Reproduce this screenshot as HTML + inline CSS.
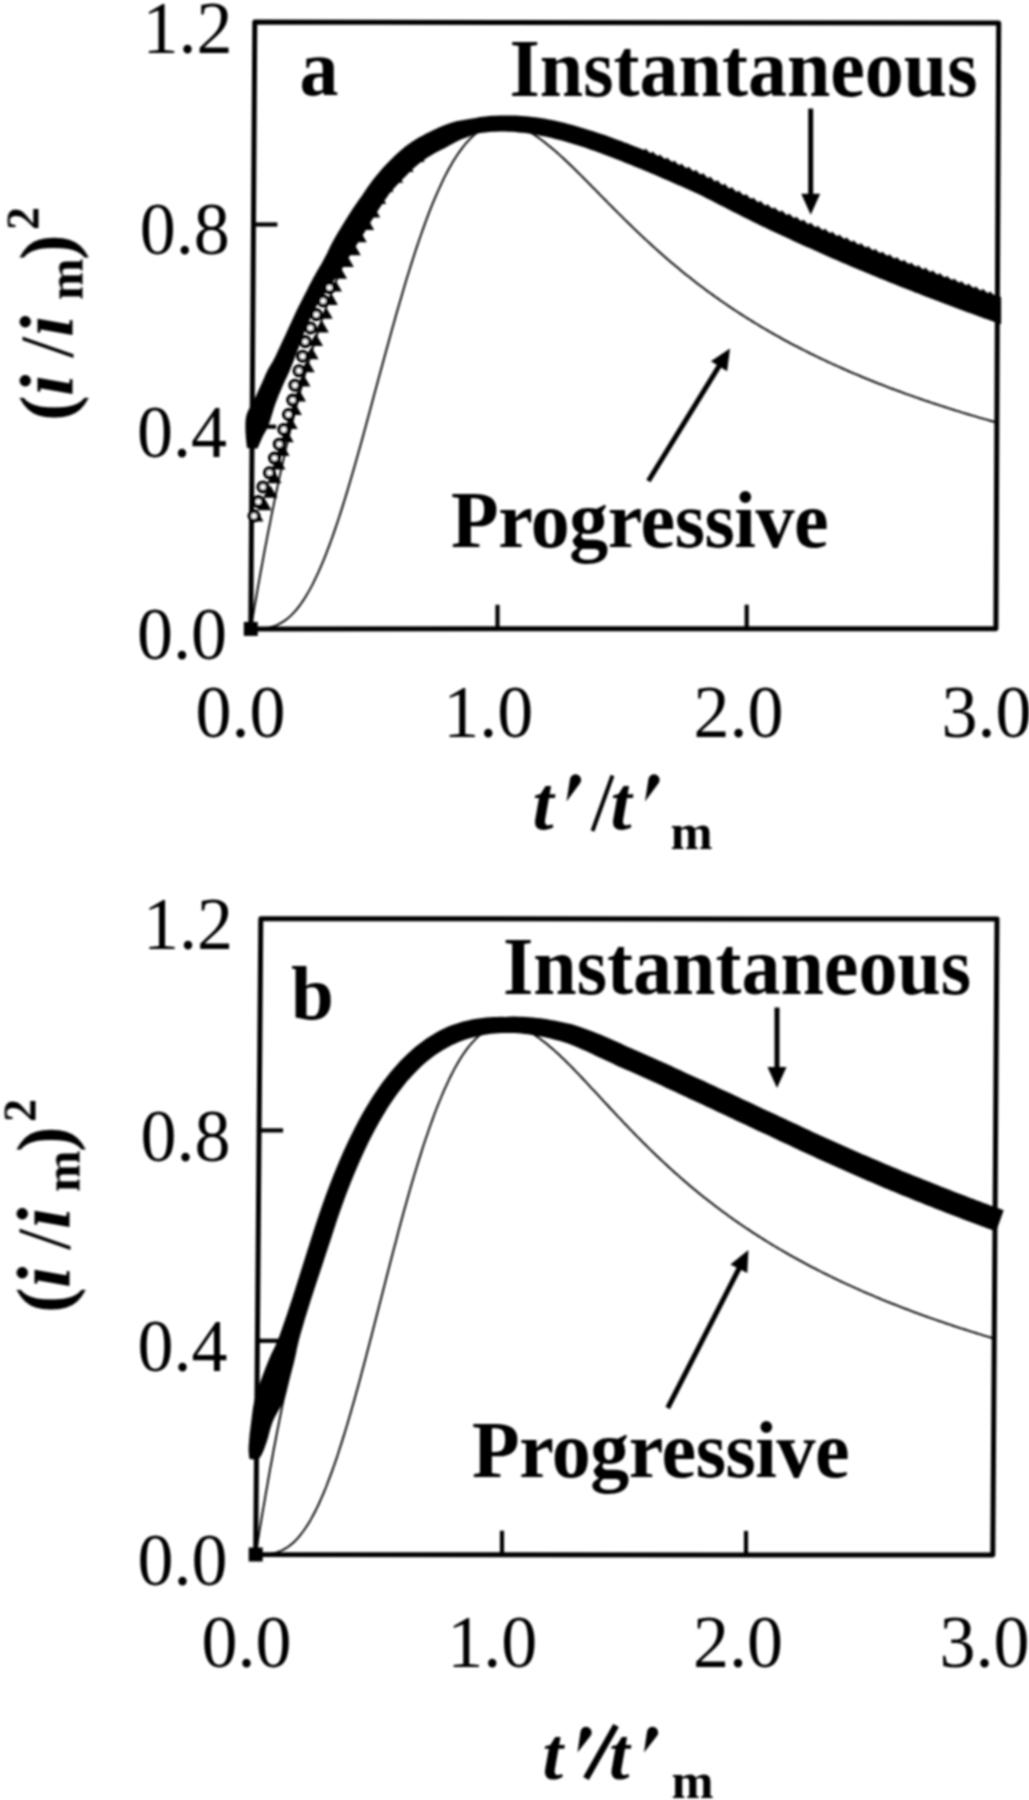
<!DOCTYPE html>
<html><head><meta charset="utf-8"><title>Chart</title>
<style>html,body{margin:0;padding:0;background:#fff;width:1029px;height:1800px;overflow:hidden}svg{display:block}</style>
</head><body>
<svg width="1029" height="1800" viewBox="0 0 1029 1800"><defs><filter id="soft" filterUnits="userSpaceOnUse" x="0" y="0" width="1029" height="1800"><feGaussianBlur stdDeviation="1.0"/></filter></defs><rect width="1029" height="1800" fill="#fff"/><g filter="url(#soft)"><polygon points="254.8,22.1 998.7,23.1 995.9,628.7 250.8,628.9" fill="none" stroke="#000" stroke-width="5" stroke-linejoin="round"/>
<line x1="252.1" y1="426.7" x2="276.1" y2="426.7" stroke="#000" stroke-width="4.2"/>
<line x1="253.4" y1="224.5" x2="277.4" y2="224.5" stroke="#000" stroke-width="4.2"/>
<line x1="497.5" y1="628.8" x2="497.5" y2="604.8" stroke="#000" stroke-width="4.2"/>
<line x1="746.7" y1="628.7" x2="746.7" y2="604.7" stroke="#000" stroke-width="4.2"/>
<rect x="243.8" y="621.9" width="14" height="14" fill="#000"/>
<polyline points="250.8,628.9 252.7,628.9 254.5,628.9 256.4,628.9 258.3,628.8 260.1,628.7 262.0,628.6 263.8,628.4 265.7,628.2 267.6,627.9 269.4,627.5 271.3,627.0 273.2,626.5 275.0,625.8 276.9,625.1 278.8,624.2 280.6,623.2 282.5,622.1 284.4,620.9 286.3,619.6 288.1,618.1 290.0,616.4 291.9,614.6 293.7,612.7 295.6,610.6 297.5,608.3 299.4,605.9 301.3,603.3 303.1,600.6 305.0,597.7 306.9,594.6 308.8,591.4 310.7,587.9 312.6,584.4 314.4,580.6 316.3,576.7 318.2,572.6 320.1,568.3 322.0,563.9 323.9,559.3 325.8,554.6 327.7,549.7 329.6,544.7 331.5,539.5 333.4,534.1 335.3,528.6 337.2,523.0 339.1,517.3 341.0,511.4 342.9,505.4 344.8,499.3 346.7,493.1 348.6,486.8 350.5,480.3 352.4,473.8 354.3,467.2 356.2,460.6 358.1,453.8 360.0,447.0 361.9,440.2 363.8,433.2 365.7,426.3 367.6,419.3 369.5,412.3 371.4,405.2 373.3,398.1 375.2,391.1 377.1,384.0 379.0,376.9 380.9,369.9 382.9,362.8 384.8,355.8 386.7,348.8 388.6,341.9 390.5,335.0 392.4,328.1 394.3,321.4 396.2,314.6 398.1,308.0 400.0,301.4 401.9,294.9 403.8,288.4 405.7,282.1 407.6,275.8 409.5,269.7 411.4,263.6 413.3,257.7 415.2,251.8 417.1,246.1 419.0,240.5 420.9,235.0 422.8,229.6 424.7,224.4 426.5,219.3 428.4,214.3 430.3,209.4 432.2,204.7 434.1,200.1 436.0,195.6 437.9,191.3 439.8,187.1 441.7,183.1 443.5,179.2 445.4,175.4 447.3,171.8 449.2,168.3 451.1,165.0 452.9,161.8 454.8,158.7 456.7,155.8 458.6,153.0 460.5,150.4 462.3,147.9 464.2,145.5 466.1,143.2 468.0,141.1 469.8,139.1 471.7,137.3 473.6,135.6 475.4,133.9 477.3,132.5 479.2,131.1 481.0,129.9 482.9,128.8 484.8,127.8 486.6,126.9 488.5,126.1 490.4,125.4 492.2,124.8 494.1,124.4 496.0,124.0 497.8,123.8 499.7,123.6 501.5,123.5 503.4,123.5 505.3,123.6 507.1,123.8 509.0,124.1 510.8,124.5 512.7,124.9 514.6,125.4 516.4,126.0 518.3,126.6 520.1,127.4 522.0,128.2 523.8,129.0 525.7,129.9 527.5,130.9 529.4,131.9 531.3,133.0 533.1,134.1 535.0,135.3 536.8,136.6 538.7,137.8 540.5,139.2 542.4,140.5 544.2,141.9 546.1,143.4 547.9,144.9 549.8,146.4 551.6,147.9 553.5,149.5 555.3,151.1 557.2,152.7 559.0,154.4 560.9,156.1 562.7,157.8 564.6,159.5 566.4,161.2 568.3,163.0 570.1,164.7 572.0,166.5 573.8,168.3 575.7,170.1 577.5,172.0 579.4,173.8 581.2,175.7 583.1,177.5 584.9,179.4 586.8,181.2 588.6,183.1 590.5,185.0 592.3,186.9 594.2,188.7 596.0,190.6 597.9,192.5 599.7,194.4 601.6,196.3 603.4,198.1 605.3,200.0 607.1,201.9 609.0,203.8 610.8,205.6 612.7,207.5 614.5,209.4 616.4,211.2 618.2,213.1 620.1,214.9 621.9,216.7 623.8,218.6 625.6,220.4 627.5,222.2 629.3,224.0 631.2,225.8 633.0,227.6 634.9,229.4 636.7,231.2 638.6,232.9 640.4,234.7 642.3,236.4 644.1,238.2 646.0,239.9 647.9,241.6 649.7,243.3 651.6,245.0 653.4,246.7 655.3,248.4 657.1,250.0 659.0,251.7 660.8,253.3 662.7,255.0 664.5,256.6 666.4,258.2 668.2,259.8 670.1,261.4 671.9,262.9 673.8,264.5 675.6,266.1 677.5,267.6 679.3,269.1 681.2,270.7 683.0,272.2 684.9,273.7 686.7,275.2 688.6,276.6 690.5,278.1 692.3,279.6 694.2,281.0 696.0,282.5 697.9,283.9 699.7,285.3 701.6,286.7 703.4,288.1 705.3,289.5 707.1,290.9 709.0,292.2 710.8,293.6 712.7,294.9 714.5,296.2 716.4,297.6 718.3,298.9 720.1,300.2 722.0,301.5 723.8,302.8 725.7,304.0 727.5,305.3 729.4,306.6 731.2,307.8 733.1,309.1 734.9,310.3 736.8,311.5 738.7,312.7 740.5,313.9 742.4,315.1 744.2,316.3 746.1,317.5 747.9,318.6 749.8,319.8 751.6,320.9 753.5,322.1 755.4,323.2 757.2,324.3 759.1,325.5 760.9,326.6 762.8,327.7 764.6,328.8 766.5,329.9 768.3,330.9 770.2,332.0 772.1,333.1 773.9,334.1 775.8,335.2 777.6,336.2 779.5,337.2 781.3,338.3 783.2,339.3 785.0,340.3 786.9,341.3 788.8,342.3 790.6,343.3 792.5,344.3 794.3,345.3 796.2,346.2 798.0,347.2 799.9,348.2 801.7,349.1 803.6,350.0 805.5,351.0 807.3,351.9 809.2,352.8 811.0,353.8 812.9,354.7 814.7,355.6 816.6,356.5 818.5,357.4 820.3,358.3 822.2,359.2 824.0,360.0 825.9,360.9 827.7,361.8 829.6,362.6 831.5,363.5 833.3,364.3 835.2,365.2 837.0,366.0 838.9,366.9 840.7,367.7 842.6,368.5 844.5,369.3 846.3,370.2 848.2,371.0 850.0,371.8 851.9,372.6 853.7,373.4 855.6,374.1 857.5,374.9 859.3,375.7 861.2,376.5 863.0,377.3 864.9,378.0 866.7,378.8 868.6,379.5 870.5,380.3 872.3,381.0 874.2,381.8 876.0,382.5 877.9,383.3 879.8,384.0 881.6,384.7 883.5,385.4 885.3,386.1 887.2,386.9 889.0,387.6 890.9,388.3 892.8,389.0 894.6,389.7 896.5,390.4 898.3,391.0 900.2,391.7 902.1,392.4 903.9,393.1 905.8,393.8 907.6,394.4 909.5,395.1 911.3,395.7 913.2,396.4 915.1,397.1 916.9,397.7 918.8,398.3 920.6,399.0 922.5,399.6 924.4,400.3 926.2,400.9 928.1,401.5 929.9,402.2 931.8,402.8 933.6,403.4 935.5,404.0 937.4,404.6 939.2,405.2 941.1,405.8 942.9,406.4 944.8,407.0 946.7,407.6 948.5,408.2 950.4,408.8 952.2,409.4 954.1,410.0 956.0,410.6 957.8,411.1 959.7,411.7 961.5,412.3 963.4,412.8 965.2,413.4 967.1,414.0 969.0,414.5 970.8,415.1 972.7,415.6 974.5,416.2 976.4,416.7 978.3,417.3 980.1,417.8 982.0,418.3 983.8,418.9 985.7,419.4 987.6,419.9 989.4,420.5 991.3,421.0 993.1,421.5 995.0,422.0 996.9,422.6" fill="none" stroke="#000" stroke-width="1.9"/>
<polyline points="250.8,628.9 251.8,622.7 252.9,616.5 253.9,610.5 254.9,604.4 256.0,598.5 257.0,592.6 258.0,586.7 259.1,580.9 260.1,575.2 261.1,569.5 262.2,563.9 263.2,558.4 264.2,552.9 265.2,547.4 266.3,542.1 267.3,536.7 268.3,531.5 269.4,526.2 270.4,521.1 271.4,515.9 272.4,510.9 273.5,505.9 274.5,500.9 275.5,496.0 276.5,491.2 277.6,486.3 278.6,481.6 279.6,476.9 280.6,472.2 281.7,467.6 282.7,463.1 283.7,458.5 284.7,454.1 285.7,449.6 286.8,445.3 287.8,440.9 288.8,436.7 289.8,432.4 290.8,428.2 291.9,424.1 292.9,420.0 293.9,415.9 294.9,411.9 295.9,407.9 297.0,404.0 298.0,400.1 299.0,396.3 300.0,392.5 301.0,388.7 302.0,385.0 303.1,381.3 304.1,377.7 305.1,374.1 306.1,370.5 307.1,367.0 308.1,363.5 309.2,360.0 310.2,356.6 311.2,353.2 312.2,349.9 313.2,346.6 314.2,343.3 315.2,340.1 316.3,336.9 317.3,333.8 318.3,330.7 319.3,327.6 320.3,324.5 321.3,321.5 322.3,318.5 323.3,315.6 324.4,312.7 325.4,309.8 326.4,306.9 327.4,304.1 328.4,301.3 329.4,298.6 330.4,295.9 331.4,293.2 332.4,290.5 333.4,287.9 334.5,285.3 335.5,282.7 336.5,280.2 337.5,277.7 338.5,275.2 339.5,272.8 340.5,270.3 341.5,268.0 342.5,265.6 343.5,263.3 344.5,261.0 345.5,258.7 346.5,256.4 347.6,254.2 348.6,252.0 349.6,249.8 350.6,247.7 351.6,245.6 352.6,243.5 353.6,241.4 354.6,239.4 355.6,237.4 356.6,235.4 357.6,233.4 358.6,231.5 359.6,229.6 360.6,227.7 361.6,225.8 362.6,224.0 363.6,222.1 364.6,220.3 365.6,218.6 366.6,216.8 367.7,215.1 368.7,213.4 369.7,211.7 370.7,210.0 371.7,208.4 372.7,206.8 373.7,205.2 374.7,203.6 375.7,202.1 376.7,200.5 377.7,199.0 378.7,197.5 379.7,196.0 380.7,194.6 381.7,193.2 382.7,191.7 383.7,190.4 384.7,189.0 385.7,187.6 386.7,186.3 387.7,185.0 388.7,183.7 389.7,182.4 390.7,181.1 391.7,179.9 392.7,178.7 393.7,177.5 394.7,176.3 395.7,175.1 396.7,174.0 397.7,172.8 398.7,171.7 399.7,170.6 400.7,169.5 401.7,168.4 402.7,167.4 403.7,166.3 404.7,165.3 405.7,164.3 406.7,163.3 407.7,162.4 408.7,161.4 409.7,160.5 410.7,159.5 411.7,158.6 412.7,157.7 413.7,156.8 414.7,156.0 415.7,155.1 416.7,154.3 417.7,153.5 418.6,152.6 419.6,151.8 420.6,151.1 421.6,150.3 422.6,149.5 423.6,148.8 424.6,148.1 425.6,147.4 426.6,146.7 427.6,146.0 428.6,145.3 429.6,144.6 430.6,144.0 431.6,143.3 432.6,142.7 433.6,142.1 434.6,141.5 435.6,140.9 436.6,140.3 437.6,139.8 438.6,139.2 439.6,138.7 440.6,138.1 441.6,137.6 442.6,137.1 443.6,136.6 444.5,136.1 445.5,135.6 446.5,135.2 447.5,134.7 448.5,134.3 449.5,133.8 450.5,133.4 451.5,133.0 452.5,132.6 453.5,132.2 454.5,131.8 455.5,131.5 456.5,131.1 457.5,130.7 458.5,130.4 459.5,130.1 460.5,129.7 461.5,129.4 462.4,129.1 463.4,128.8 464.4,128.5 465.4,128.3 466.4,128.0 467.4,127.7 468.4,127.5 469.4,127.2 470.4,127.0 471.4,126.8 472.4,126.6 473.4,126.3 474.4,126.1 475.4,126.0 476.4,125.8 477.4,125.6 478.3,125.4 479.3,125.3 480.3,125.1 481.3,125.0 482.3,124.8 483.3,124.7 484.3,124.6 485.3,124.5 486.3,124.3 487.3,124.2 488.3,124.1 489.3,124.1 490.3,124.0 491.3,123.9 492.2,123.8 493.2,123.8 494.2,123.7 495.2,123.7 496.2,123.6 497.2,123.6 498.2,123.6 499.2,123.6 500.2,123.5 501.2,123.5 502.2,123.5 503.2,123.5 504.2,123.5 505.1,123.6 506.1,123.6 507.1,123.6 508.1,123.6 509.1,123.7 510.1,123.7 511.1,123.8 512.1,123.8 513.1,123.9 514.1,124.0 515.1,124.0 516.1,124.1 517.0,124.2 518.0,124.3 519.0,124.4 520.0,124.5 521.0,124.6 522.0,124.7 523.0,124.8 524.0,124.9 525.0,125.0 526.0,125.2 527.0,125.3 528.0,125.4 528.9,125.6 529.9,125.7 530.9,125.9 531.9,126.0 532.9,126.2 533.9,126.4 534.9,126.5 535.9,126.7 536.9,126.9 537.9,127.1 538.9,127.3 539.8,127.5 540.8,127.6 541.8,127.8 542.8,128.0 543.8,128.3 544.8,128.5 545.8,128.7 546.8,128.9 547.8,129.1 548.8,129.3 549.8,129.6 550.7,129.8 551.7,130.0" fill="none" stroke="#000" stroke-width="1.9"/>
<polygon points="260.8,918.8 997.0,919.0 992.8,1555.1 255.7,1554.5" fill="none" stroke="#000" stroke-width="5" stroke-linejoin="round"/>
<line x1="257.4" y1="1340.8" x2="281.4" y2="1340.8" stroke="#000" stroke-width="4.2"/>
<line x1="259.1" y1="1130.4" x2="283.1" y2="1130.4" stroke="#000" stroke-width="4.2"/>
<line x1="502.0" y1="1554.7" x2="502.0" y2="1530.7" stroke="#000" stroke-width="4.2"/>
<line x1="746.0" y1="1554.9" x2="746.0" y2="1530.9" stroke="#000" stroke-width="4.2"/>
<rect x="248.7" y="1547.5" width="14" height="14" fill="#000"/>
<polyline points="255.7,1554.5 257.5,1554.5 259.4,1554.5 261.2,1554.5 263.1,1554.4 264.9,1554.3 266.8,1554.2 268.6,1554.0 270.4,1553.8 272.3,1553.4 274.1,1553.0 276.0,1552.6 277.8,1552.0 279.7,1551.3 281.5,1550.5 283.4,1549.6 285.2,1548.6 287.1,1547.5 288.9,1546.2 290.8,1544.7 292.6,1543.2 294.5,1541.5 296.4,1539.6 298.2,1537.6 300.1,1535.4 301.9,1533.0 303.8,1530.5 305.7,1527.8 307.5,1524.9 309.4,1521.9 311.3,1518.6 313.1,1515.2 315.0,1511.7 316.9,1507.9 318.8,1504.0 320.6,1499.9 322.5,1495.6 324.4,1491.1 326.3,1486.5 328.1,1481.7 330.0,1476.7 331.9,1471.6 333.8,1466.3 335.7,1460.9 337.6,1455.3 339.4,1449.5 341.3,1443.6 343.2,1437.6 345.1,1431.5 347.0,1425.2 348.9,1418.8 350.8,1412.3 352.7,1405.6 354.6,1398.9 356.5,1392.1 358.4,1385.2 360.3,1378.2 362.2,1371.1 364.1,1364.0 366.0,1356.8 367.9,1349.6 369.8,1342.3 371.7,1334.9 373.6,1327.6 375.5,1320.2 377.4,1312.8 379.3,1305.4 381.2,1298.0 383.1,1290.6 385.0,1283.2 386.9,1275.8 388.8,1268.4 390.7,1261.1 392.6,1253.8 394.5,1246.6 396.4,1239.4 398.2,1232.3 400.1,1225.2 402.0,1218.3 403.9,1211.3 405.8,1204.5 407.7,1197.8 409.6,1191.1 411.5,1184.6 413.4,1178.1 415.3,1171.8 417.2,1165.5 419.1,1159.4 421.0,1153.4 422.8,1147.5 424.7,1141.8 426.6,1136.2 428.5,1130.7 430.4,1125.3 432.3,1120.1 434.1,1115.0 436.0,1110.0 437.9,1105.2 439.8,1100.5 441.7,1096.0 443.5,1091.6 445.4,1087.4 447.3,1083.3 449.1,1079.3 451.0,1075.5 452.9,1071.9 454.7,1068.4 456.6,1065.0 458.5,1061.8 460.3,1058.7 462.2,1055.8 464.1,1053.0 465.9,1050.4 467.8,1047.9 469.7,1045.5 471.5,1043.3 473.4,1041.3 475.2,1039.3 477.1,1037.5 478.9,1035.8 480.8,1034.3 482.6,1032.8 484.5,1031.5 486.3,1030.4 488.2,1029.3 490.0,1028.4 491.9,1027.6 493.7,1026.8 495.6,1026.3 497.4,1025.8 499.3,1025.4 501.1,1025.1 502.9,1024.9 504.8,1024.9 506.6,1024.9 508.5,1025.0 510.3,1025.2 512.1,1025.5 514.0,1025.8 515.8,1026.3 517.7,1026.8 519.5,1027.4 521.3,1028.1 523.2,1028.9 525.0,1029.7 526.8,1030.6 528.7,1031.6 530.5,1032.6 532.3,1033.6 534.2,1034.8 536.0,1036.0 537.8,1037.2 539.7,1038.5 541.5,1039.9 543.3,1041.2 545.2,1042.7 547.0,1044.1 548.8,1045.7 550.6,1047.2 552.5,1048.8 554.3,1050.4 556.1,1052.1 558.0,1053.7 559.8,1055.4 561.6,1057.2 563.4,1058.9 565.3,1060.7 567.1,1062.5 568.9,1064.3 570.8,1066.2 572.6,1068.0 574.4,1069.9 576.2,1071.8 578.1,1073.7 579.9,1075.6 581.7,1077.5 583.5,1079.5 585.4,1081.4 587.2,1083.4 589.0,1085.3 590.8,1087.3 592.7,1089.3 594.5,1091.2 596.3,1093.2 598.2,1095.2 600.0,1097.1 601.8,1099.1 603.6,1101.1 605.5,1103.1 607.3,1105.0 609.1,1107.0 610.9,1109.0 612.8,1110.9 614.6,1112.9 616.4,1114.8 618.2,1116.8 620.1,1118.7 621.9,1120.6 623.7,1122.6 625.6,1124.5 627.4,1126.4 629.2,1128.3 631.0,1130.2 632.9,1132.1 634.7,1134.0 636.5,1135.8 638.3,1137.7 640.2,1139.5 642.0,1141.4 643.8,1143.2 645.7,1145.0 647.5,1146.8 649.3,1148.6 651.1,1150.4 653.0,1152.2 654.8,1154.0 656.6,1155.7 658.5,1157.5 660.3,1159.2 662.1,1160.9 663.9,1162.6 665.8,1164.3 667.6,1166.0 669.4,1167.7 671.3,1169.4 673.1,1171.0 674.9,1172.7 676.8,1174.3 678.6,1175.9 680.4,1177.5 682.2,1179.1 684.1,1180.7 685.9,1182.3 687.7,1183.8 689.6,1185.4 691.4,1186.9 693.2,1188.4 695.1,1190.0 696.9,1191.5 698.7,1193.0 700.5,1194.5 702.4,1195.9 704.2,1197.4 706.0,1198.8 707.9,1200.3 709.7,1201.7 711.5,1203.1 713.4,1204.5 715.2,1205.9 717.0,1207.3 718.9,1208.7 720.7,1210.1 722.5,1211.4 724.4,1212.8 726.2,1214.1 728.0,1215.5 729.8,1216.8 731.7,1218.1 733.5,1219.4 735.3,1220.7 737.2,1221.9 739.0,1223.2 740.8,1224.5 742.7,1225.7 744.5,1227.0 746.3,1228.2 748.2,1229.4 750.0,1230.6 751.8,1231.9 753.7,1233.1 755.5,1234.2 757.3,1235.4 759.2,1236.6 761.0,1237.8 762.8,1238.9 764.7,1240.1 766.5,1241.2 768.3,1242.3 770.2,1243.5 772.0,1244.6 773.8,1245.7 775.7,1246.8 777.5,1247.9 779.3,1249.0 781.2,1250.0 783.0,1251.1 784.8,1252.2 786.7,1253.2 788.5,1254.3 790.4,1255.3 792.2,1256.3 794.0,1257.4 795.9,1258.4 797.7,1259.4 799.5,1260.4 801.4,1261.4 803.2,1262.4 805.0,1263.4 806.9,1264.4 808.7,1265.3 810.5,1266.3 812.4,1267.3 814.2,1268.2 816.0,1269.2 817.9,1270.1 819.7,1271.0 821.5,1272.0 823.4,1272.9 825.2,1273.8 827.1,1274.7 828.9,1275.6 830.7,1276.5 832.6,1277.4 834.4,1278.3 836.2,1279.2 838.1,1280.1 839.9,1280.9 841.7,1281.8 843.6,1282.7 845.4,1283.5 847.2,1284.4 849.1,1285.2 850.9,1286.0 852.8,1286.9 854.6,1287.7 856.4,1288.5 858.3,1289.3 860.1,1290.2 861.9,1291.0 863.8,1291.8 865.6,1292.6 867.4,1293.4 869.3,1294.2 871.1,1294.9 873.0,1295.7 874.8,1296.5 876.6,1297.3 878.5,1298.0 880.3,1298.8 882.1,1299.6 884.0,1300.3 885.8,1301.1 887.6,1301.8 889.5,1302.5 891.3,1303.3 893.2,1304.0 895.0,1304.7 896.8,1305.4 898.7,1306.2 900.5,1306.9 902.3,1307.6 904.2,1308.3 906.0,1309.0 907.9,1309.7 909.7,1310.4 911.5,1311.1 913.4,1311.8 915.2,1312.5 917.0,1313.1 918.9,1313.8 920.7,1314.5 922.5,1315.1 924.4,1315.8 926.2,1316.5 928.1,1317.1 929.9,1317.8 931.7,1318.4 933.6,1319.1 935.4,1319.7 937.3,1320.4 939.1,1321.0 940.9,1321.6 942.8,1322.2 944.6,1322.9 946.4,1323.5 948.3,1324.1 950.1,1324.7 952.0,1325.3 953.8,1326.0 955.6,1326.6 957.5,1327.2 959.3,1327.8 961.1,1328.4 963.0,1328.9 964.8,1329.5 966.7,1330.1 968.5,1330.7 970.3,1331.3 972.2,1331.9 974.0,1332.4 975.8,1333.0 977.7,1333.6 979.5,1334.2 981.4,1334.7 983.2,1335.3 985.0,1335.8 986.9,1336.4 988.7,1336.9 990.6,1337.5 992.4,1338.0 994.2,1338.6" fill="none" stroke="#000" stroke-width="1.9"/>
<polyline points="255.7,1554.5 256.7,1548.0 257.8,1541.6 258.8,1535.2 259.8,1528.9 260.9,1522.6 261.9,1516.4 262.9,1510.3 264.0,1504.3 265.0,1498.3 266.0,1492.3 267.1,1486.5 268.1,1480.6 269.1,1474.9 270.1,1469.2 271.2,1463.5 272.2,1458.0 273.2,1452.4 274.2,1447.0 275.3,1441.5 276.3,1436.2 277.3,1430.9 278.4,1425.6 279.4,1420.4 280.4,1415.3 281.4,1410.2 282.4,1405.2 283.5,1400.2 284.5,1395.3 285.5,1390.4 286.5,1385.5 287.6,1380.8 288.6,1376.0 289.6,1371.4 290.6,1366.7 291.6,1362.1 292.6,1357.6 293.7,1353.1 294.7,1348.7 295.7,1344.3 296.7,1340.0 297.7,1335.7 298.7,1331.4 299.8,1327.2 300.8,1323.0 301.8,1318.9 302.8,1314.8 303.8,1310.8 304.8,1306.8 305.9,1302.9 306.9,1299.0 307.9,1295.1 308.9,1291.3 309.9,1287.5 310.9,1283.8 311.9,1280.1 312.9,1276.4 313.9,1272.8 315.0,1269.3 316.0,1265.7 317.0,1262.2 318.0,1258.8 319.0,1255.4 320.0,1252.0 321.0,1248.6 322.0,1245.3 323.0,1242.1 324.0,1238.8 325.0,1235.6 326.1,1232.5 327.1,1229.3 328.1,1226.3 329.1,1223.2 330.1,1220.2 331.1,1217.2 332.1,1214.2 333.1,1211.3 334.1,1208.4 335.1,1205.6 336.1,1202.8 337.1,1200.0 338.1,1197.2 339.1,1194.5 340.1,1191.8 341.1,1189.2 342.1,1186.5 343.1,1183.9 344.1,1181.4 345.1,1178.8 346.1,1176.3 347.1,1173.9 348.1,1171.4 349.1,1169.0 350.1,1166.6 351.1,1164.3 352.1,1161.9 353.1,1159.6 354.1,1157.4 355.1,1155.1 356.1,1152.9 357.1,1150.7 358.1,1148.5 359.1,1146.4 360.1,1144.3 361.1,1142.2 362.1,1140.1 363.1,1138.1 364.1,1136.1 365.1,1134.1 366.1,1132.2 367.1,1130.2 368.1,1128.3 369.1,1126.4 370.1,1124.6 371.1,1122.7 372.1,1120.9 373.1,1119.1 374.1,1117.4 375.1,1115.6 376.1,1113.9 377.1,1112.2 378.1,1110.5 379.1,1108.9 380.1,1107.3 381.1,1105.7 382.1,1104.1 383.1,1102.5 384.0,1101.0 385.0,1099.4 386.0,1097.9 387.0,1096.5 388.0,1095.0 389.0,1093.6 390.0,1092.1 391.0,1090.7 392.0,1089.4 393.0,1088.0 394.0,1086.7 395.0,1085.3 396.0,1084.0 397.0,1082.8 397.9,1081.5 398.9,1080.2 399.9,1079.0 400.9,1077.8 401.9,1076.6 402.9,1075.4 403.9,1074.3 404.9,1073.1 405.9,1072.0 406.9,1070.9 407.9,1069.8 408.8,1068.8 409.8,1067.7 410.8,1066.7 411.8,1065.6 412.8,1064.6 413.8,1063.6 414.8,1062.7 415.8,1061.7 416.8,1060.8 417.7,1059.9 418.7,1058.9 419.7,1058.0 420.7,1057.2 421.7,1056.3 422.7,1055.5 423.7,1054.6 424.7,1053.8 425.7,1053.0 426.6,1052.2 427.6,1051.4 428.6,1050.7 429.6,1049.9 430.6,1049.2 431.6,1048.4 432.6,1047.7 433.6,1047.0 434.5,1046.4 435.5,1045.7 436.5,1045.0 437.5,1044.4 438.5,1043.8 439.5,1043.1 440.5,1042.5 441.5,1041.9 442.4,1041.3 443.4,1040.8 444.4,1040.2 445.4,1039.7 446.4,1039.1 447.4,1038.6 448.4,1038.1 449.3,1037.6 450.3,1037.1 451.3,1036.6 452.3,1036.2 453.3,1035.7 454.3,1035.3 455.3,1034.8 456.2,1034.4 457.2,1034.0 458.2,1033.6 459.2,1033.2 460.2,1032.8 461.2,1032.5 462.1,1032.1 463.1,1031.8 464.1,1031.4 465.1,1031.1 466.1,1030.8 467.1,1030.5 468.1,1030.2 469.0,1029.9 470.0,1029.6 471.0,1029.3 472.0,1029.0 473.0,1028.8 474.0,1028.5 474.9,1028.3 475.9,1028.1 476.9,1027.8 477.9,1027.6 478.9,1027.4 479.9,1027.2 480.8,1027.1 481.8,1026.9 482.8,1026.7 483.8,1026.5 484.8,1026.4 485.8,1026.2 486.7,1026.1 487.7,1026.0 488.7,1025.8 489.7,1025.7 490.7,1025.6 491.6,1025.5 492.6,1025.4 493.6,1025.3 494.6,1025.3 495.6,1025.2 496.6,1025.1 497.5,1025.1 498.5,1025.0 499.5,1025.0 500.5,1025.0 501.5,1024.9 502.5,1024.9 503.4,1024.9 504.4,1024.9 505.4,1024.9 506.4,1024.9 507.4,1024.9 508.3,1024.9 509.3,1024.9 510.3,1025.0 511.3,1025.0 512.3,1025.0 513.3,1025.1 514.2,1025.1 515.2,1025.2 516.2,1025.2 517.2,1025.3 518.2,1025.4 519.1,1025.5 520.1,1025.6 521.1,1025.7 522.1,1025.8 523.1,1025.9 524.0,1026.0 525.0,1026.1 526.0,1026.2 527.0,1026.3 528.0,1026.4 529.0,1026.6 529.9,1026.7 530.9,1026.9 531.9,1027.0 532.9,1027.2 533.9,1027.3 534.8,1027.5 535.8,1027.7 536.8,1027.8 537.8,1028.0 538.8,1028.2 539.7,1028.4 540.7,1028.6 541.7,1028.8 542.7,1029.0 543.7,1029.2 544.6,1029.4 545.6,1029.6 546.6,1029.8 547.6,1030.0 548.6,1030.2 549.5,1030.5 550.5,1030.7 551.5,1030.9 552.5,1031.2 553.5,1031.4 554.4,1031.7" fill="none" stroke="#000" stroke-width="1.9"/>
<polygon points="247.0,448.0 246.8,446.2 246.5,443.8 246.2,440.9 245.9,437.9 245.7,434.8 245.5,432.0 245.4,429.4 245.4,426.7 245.4,424.1 245.5,421.6 245.7,419.2 246.0,417.0 246.5,415.0 247.1,413.2 247.8,411.6 248.5,410.0 249.3,408.5 250.0,407.0 250.7,405.7 251.3,404.5 252.0,403.5 252.7,402.3 253.5,400.8 254.5,399.0 255.7,396.6 257.0,393.7 258.4,390.6 259.8,387.4 261.2,384.4 262.4,381.7 263.4,379.4 264.3,377.4 265.1,375.5 265.9,373.7 266.7,371.9 267.7,370.0 268.7,368.1 269.8,366.4 270.8,364.6 272.0,362.7 273.3,360.5 274.7,357.8 276.3,354.5 278.0,350.8 279.9,346.8 281.8,342.6 283.7,338.4 285.6,334.4 287.4,330.5 289.2,326.6 291.0,322.7 292.7,318.9 294.5,315.0 296.4,311.1 298.3,307.1 300.4,303.0 302.4,298.9 304.4,294.9 306.4,291.2 308.1,287.8 309.6,284.8 311.0,282.3 312.2,279.9 313.4,277.6 314.7,275.4 316.0,273.0 317.4,270.5 318.9,267.9 320.4,265.4 321.9,262.9 323.3,260.3 324.7,257.8 326.0,255.3 327.2,252.9 328.3,250.4 329.5,248.0 330.7,245.5 332.0,243.0 333.4,240.4 334.9,237.8 336.4,235.2 337.9,232.6 339.5,230.0 341.0,227.5 342.5,225.0 344.1,222.4 345.7,219.8 347.2,217.4 348.7,215.1 350.0,213.0 351.2,211.2 352.2,209.6 353.2,208.1 354.1,206.8 355.0,205.4 356.0,204.0 357.0,202.6 357.8,201.4 358.7,200.1 359.7,198.8 360.8,197.3 362.0,195.5 363.4,193.4 365.0,191.1 366.7,188.6 368.4,186.0 370.3,183.4 372.2,180.8 374.2,178.3 376.2,175.7 378.4,173.2 380.6,170.6 382.8,168.1 385.1,165.6 387.5,163.1 390.0,160.5 392.5,158.0 395.0,155.5 397.5,153.2 400.0,151.0 402.4,149.0 404.7,147.1 407.0,145.3 409.3,143.7 411.6,142.1 414.0,140.5 416.4,139.0 418.8,137.6 421.3,136.2 423.7,134.9 426.2,133.6 428.6,132.4 431.0,131.2 433.4,130.0 435.8,128.9 438.2,127.8 440.6,126.8 443.0,125.8 445.6,124.8 448.4,123.8 451.2,122.8 453.9,122.0 456.1,121.2 472.4,118.6 475.7,117.9 479.0,117.3 482.3,116.8 485.6,116.4 488.9,116.1 492.3,115.8 495.6,115.7 498.9,115.6 502.2,115.5 505.5,115.4 508.8,115.4 512.1,115.4 515.4,115.5 518.7,115.7 522.0,115.9 525.3,116.2 528.7,116.5 532.0,116.9 535.3,117.3 538.6,117.8 541.9,118.3 545.2,118.8 548.5,119.4 551.8,120.1 555.1,120.8 558.4,121.5 561.7,122.3 565.0,123.1 568.3,124.0 571.6,124.8 574.9,125.8 578.2,126.7 581.5,127.7 584.8,128.7 588.1,129.7 591.4,130.7 594.7,131.8 598.1,132.9 601.4,134.0 604.7,135.1 608.0,136.3 611.3,137.5 614.6,138.7 617.9,139.9 621.2,141.1 624.5,142.4 627.8,143.6 631.1,144.9 634.4,146.2 637.7,147.5 641.0,148.8 644.3,150.2 647.6,151.5 650.9,152.9 654.2,154.2 657.5,155.6 660.8,157.0 664.1,158.3 667.4,159.7 670.7,161.1 674.0,162.5 677.3,164.0 680.6,165.4 683.9,166.8 687.2,168.2 690.5,169.7 693.8,171.1 697.1,172.5 700.4,174.1 703.7,175.7 707.0,177.3 710.3,178.9 713.6,180.5 716.9,182.1 720.2,183.7 723.5,185.3 726.8,186.9 730.1,188.5 733.4,190.1 736.7,191.7 740.0,193.3 743.3,194.8 746.6,196.4 750.0,198.0 753.3,199.6 756.6,201.2 759.9,202.8 763.2,204.3 766.5,205.7 769.8,207.2 773.1,208.6 776.4,210.1 779.7,211.5 783.0,213.0 786.3,214.4 789.6,215.8 792.9,217.3 796.2,218.7 799.5,220.1 802.8,221.5 806.1,222.9 809.4,224.3 812.7,225.7 816.0,227.0 819.3,228.4 822.6,229.8 825.9,231.1 829.2,232.5 832.5,233.8 835.8,235.2 839.1,236.5 842.4,237.8 845.7,239.2 849.0,240.5 852.3,241.8 855.6,243.2 859.0,244.5 862.3,245.8 865.6,247.1 868.9,248.4 872.2,249.7 875.5,251.0 878.8,252.3 882.1,253.5 885.4,254.8 888.7,256.1 892.0,257.4 895.3,258.6 898.6,259.9 901.9,261.1 905.2,262.3 908.5,263.6 911.8,264.8 915.1,266.0 918.4,267.2 921.7,268.4 925.0,269.7 928.3,270.9 931.6,272.1 935.0,273.4 938.3,274.6 941.6,275.9 944.9,277.1 948.2,278.4 951.5,279.6 954.8,280.8 958.1,282.0 961.4,283.2 964.7,284.4 968.0,285.6 971.3,286.8 974.6,288.0 977.9,289.2 981.2,290.4 984.5,291.5 987.8,292.7 991.1,293.8 994.5,295.0 997.8,296.1 1001.1,297.3 1001.1,324.2 997.8,323.1 994.5,321.9 991.1,320.7 987.8,319.6 984.5,318.4 981.2,317.2 977.9,316.0 974.6,314.8 971.3,313.6 968.0,312.4 964.7,311.2 961.4,310.0 958.1,308.7 954.8,307.5 951.5,306.2 948.2,305.0 944.9,303.7 941.6,302.5 938.3,301.2 935.0,299.9 931.6,298.7 928.3,297.4 925.0,296.2 921.7,294.9 918.4,293.6 915.1,292.4 911.8,291.1 908.5,289.8 905.2,288.5 901.9,287.2 898.6,285.9 895.3,284.6 892.0,283.2 888.7,281.9 885.4,280.6 882.1,279.2 878.8,277.9 875.5,276.5 872.2,275.2 868.9,273.8 865.6,272.4 862.3,271.1 859.0,269.7 855.6,268.3 852.3,266.9 849.0,265.5 845.7,264.1 842.4,262.7 839.1,261.2 835.8,259.8 832.5,258.4 829.2,256.9 825.9,255.5 822.6,254.0 819.3,252.6 816.0,251.1 812.7,249.6 809.4,248.1 806.1,246.7 802.8,245.2 799.5,243.7 796.2,242.2 792.9,240.7 789.6,239.1 786.3,237.6 783.0,236.1 779.7,234.5 776.4,233.0 773.1,231.4 769.8,229.9 766.5,228.3 763.2,226.8 759.9,225.2 756.6,223.6 753.3,221.9 750.0,220.2 746.6,218.6 743.3,216.9 740.0,215.2 736.7,213.5 733.4,211.9 730.1,210.2 726.8,208.5 723.5,206.8 720.2,205.2 716.9,203.5 713.6,201.8 710.3,200.1 707.0,198.4 703.7,196.8 700.4,195.1 697.1,193.5 693.8,192.0 690.5,190.5 687.2,189.1 683.9,187.6 680.6,186.1 677.3,184.7 674.0,183.2 670.7,181.8 667.4,180.3 664.1,178.9 660.8,177.5 657.5,176.0 654.2,174.6 650.9,173.2 647.6,171.8 644.3,170.5 641.0,169.1 637.7,167.7 634.4,166.4 631.1,165.0 627.8,163.7 624.5,162.4 621.2,161.1 617.9,159.8 614.6,158.5 611.3,157.2 608.0,155.9 604.7,154.7 601.4,153.4 598.1,152.2 594.7,151.0 591.4,149.9 588.1,148.7 584.8,147.6 581.5,146.5 578.2,145.5 574.9,144.4 571.6,143.4 568.3,142.4 565.0,141.5 561.7,140.6 558.4,139.7 555.1,138.9 551.8,138.1 548.5,137.3 545.2,136.6 541.9,135.9 538.6,135.2 535.3,134.6 532.0,134.1 528.7,133.6 525.3,133.1 522.0,132.7 518.7,132.4 515.4,132.1 512.1,131.8 508.8,131.7 505.5,131.6 502.2,131.5 498.9,131.6 495.6,131.7 492.3,131.8 488.9,132.1 485.6,132.4 482.3,132.8 479.0,133.3 475.7,133.9 472.4,134.6 473.5,135.0 471.4,135.7 469.0,136.5 466.3,137.4 463.6,138.4 461.0,139.5 458.4,140.7 455.8,142.1 453.1,143.6 450.3,145.1 447.6,146.6 445.0,148.0 442.4,149.3 439.9,150.6 437.4,151.8 435.0,153.1 432.5,154.5 430.0,156.0 427.5,157.6 425.0,159.3 422.4,161.1 419.9,163.0 417.4,165.0 415.0,167.0 412.6,169.2 410.1,171.5 407.8,173.9 405.4,176.4 403.1,178.7 401.0,181.0 399.0,183.1 397.0,185.1 395.2,187.1 393.4,189.0 391.7,191.0 390.0,193.0 388.4,195.1 386.8,197.4 385.2,199.6 383.7,201.9 382.3,204.0 381.0,206.0 379.8,207.8 378.7,209.4 377.7,211.0 376.7,212.6 375.6,214.2 374.5,216.0 373.3,218.0 371.9,220.1 370.6,222.3 369.2,224.6 367.9,226.8 366.5,229.0 365.2,231.2 363.8,233.4 362.5,235.6 361.1,237.7 359.8,239.9 358.5,242.0 357.2,244.1 356.0,246.1 354.8,248.1 353.5,250.0 352.3,252.0 351.0,254.0 349.7,256.0 348.4,258.0 347.0,259.9 345.7,261.9 344.3,263.9 343.0,266.0 341.7,268.1 340.4,270.3 339.1,272.4 337.7,274.6 336.4,276.8 335.0,279.0 333.6,281.1 332.1,283.3 330.6,285.4 329.1,287.5 327.6,289.7 326.0,292.0 324.4,294.3 322.7,296.7 321.0,299.1 319.3,301.6 317.6,304.2 316.0,307.0 314.4,310.0 312.8,313.1 311.2,316.3 309.7,319.7 308.1,323.2 306.5,327.0 304.8,331.1 303.1,335.7 301.3,340.4 299.6,345.0 298.0,349.4 296.5,353.3 295.2,356.6 294.1,359.5 293.1,362.2 292.1,364.7 291.1,367.3 290.0,370.0 288.7,372.9 287.4,375.8 286.0,378.7 284.6,381.6 283.3,384.6 282.0,387.5 280.8,390.4 279.6,393.2 278.4,396.1 277.3,399.0 276.1,401.9 275.0,405.0 273.9,408.3 272.8,411.9 271.7,415.6 270.6,419.2 269.5,422.5 268.5,425.4 267.5,427.7 266.6,429.6 265.7,431.2 264.8,432.7 263.9,434.2 263.0,436.0 262.0,438.1 261.0,440.5 259.9,442.9 258.9,445.2 258.1,447.1 257.5,448.5" fill="#000"/>
<polygon points="642.1,152.2 645.6,148.5 649.1,152.2" fill="#000"/>
<polygon points="649.2,155.1 652.7,151.4 656.2,155.1" fill="#000"/>
<polygon points="656.4,158.1 659.9,154.4 663.4,158.1" fill="#000"/>
<polygon points="663.6,161.1 667.1,157.4 670.6,161.1" fill="#000"/>
<polygon points="670.8,164.2 674.3,160.5 677.8,164.2" fill="#000"/>
<polygon points="677.9,167.2 681.4,163.5 684.9,167.2" fill="#000"/>
<polygon points="685.1,170.3 688.6,166.6 692.1,170.3" fill="#000"/>
<polygon points="692.3,173.5 695.8,169.8 699.3,173.5" fill="#000"/>
<polygon points="699.5,176.8 703.0,173.1 706.5,176.8" fill="#000"/>
<polygon points="706.6,180.3 710.1,176.6 713.6,180.3" fill="#000"/>
<polygon points="713.8,183.8 717.3,180.1 720.8,183.8" fill="#000"/>
<polygon points="721.0,187.2 724.5,183.5 728.0,187.2" fill="#000"/>
<polygon points="728.2,190.7 731.7,187.0 735.2,190.7" fill="#000"/>
<polygon points="735.3,194.2 738.8,190.5 742.3,194.2" fill="#000"/>
<polygon points="742.5,197.6 746.0,193.9 749.5,197.6" fill="#000"/>
<polygon points="749.7,201.1 753.2,197.4 756.7,201.1" fill="#000"/>
<polygon points="756.9,204.5 760.4,200.8 763.9,204.5" fill="#000"/>
<polygon points="764.1,207.7 767.6,204.0 771.1,207.7" fill="#000"/>
<polygon points="771.2,210.9 774.7,207.2 778.2,210.9" fill="#000"/>
<polygon points="778.4,214.0 781.9,210.3 785.4,214.0" fill="#000"/>
<polygon points="785.6,217.1 789.1,213.4 792.6,217.1" fill="#000"/>
<polygon points="792.8,220.2 796.3,216.5 799.8,220.2" fill="#000"/>
<polygon points="799.9,223.3 803.4,219.6 806.9,223.3" fill="#000"/>
<polygon points="807.1,226.3 810.6,222.6 814.1,226.3" fill="#000"/>
<polygon points="814.3,229.3 817.8,225.6 821.3,229.3" fill="#000"/>
<polygon points="821.5,232.2 825.0,228.5 828.5,232.2" fill="#000"/>
<polygon points="828.7,235.2 832.2,231.5 835.7,235.2" fill="#000"/>
<polygon points="835.8,238.1 839.3,234.4 842.8,238.1" fill="#000"/>
<polygon points="843.0,241.0 846.5,237.3 850.0,241.0" fill="#000"/>
<polygon points="850.2,243.9 853.7,240.2 857.2,243.9" fill="#000"/>
<polygon points="857.4,246.7 860.9,243.0 864.4,246.7" fill="#000"/>
<polygon points="864.6,249.6 868.1,245.9 871.6,249.6" fill="#000"/>
<polygon points="871.7,252.4 875.2,248.7 878.7,252.4" fill="#000"/>
<polygon points="878.9,255.2 882.4,251.5 885.9,255.2" fill="#000"/>
<polygon points="886.1,257.9 889.6,254.2 893.1,257.9" fill="#000"/>
<polygon points="893.3,260.7 896.8,257.0 900.3,260.7" fill="#000"/>
<polygon points="900.5,263.4 904.0,259.7 907.5,263.4" fill="#000"/>
<polygon points="907.6,266.1 911.1,262.4 914.6,266.1" fill="#000"/>
<polygon points="914.8,268.7 918.3,265.0 921.8,268.7" fill="#000"/>
<polygon points="922.0,271.3 925.5,267.6 929.0,271.3" fill="#000"/>
<polygon points="929.2,274.0 932.7,270.3 936.2,274.0" fill="#000"/>
<polygon points="936.4,276.7 939.9,273.0 943.4,276.7" fill="#000"/>
<polygon points="943.6,279.4 947.1,275.7 950.6,279.4" fill="#000"/>
<polygon points="950.7,282.1 954.2,278.4 957.7,282.1" fill="#000"/>
<polygon points="957.9,284.7 961.4,281.0 964.9,284.7" fill="#000"/>
<polygon points="965.1,287.3 968.6,283.6 972.1,287.3" fill="#000"/>
<polygon points="972.3,289.9 975.8,286.2 979.3,289.9" fill="#000"/>
<polygon points="979.5,292.5 983.0,288.8 986.5,292.5" fill="#000"/>
<polygon points="986.7,295.0 990.2,291.3 993.7,295.0" fill="#000"/>
<polygon points="993.9,297.5 997.4,293.8 1000.9,297.5" fill="#000"/>
<polygon points="263.5,521.5 249.0,521.5 256.2,508.9" fill="#000"/>
<polygon points="271.5,510.3 257.0,510.3 264.3,497.7" fill="#000"/>
<polygon points="277.5,497.8 263.0,497.8 270.2,485.2" fill="#000"/>
<polygon points="281.5,483.3 267.0,483.3 274.2,470.8" fill="#000"/>
<polygon points="285.5,469.6 271.0,469.6 278.3,457.1" fill="#000"/>
<polygon points="289.6,455.9 275.1,455.9 282.4,443.4" fill="#000"/>
<polygon points="293.7,442.3 279.2,442.3 286.5,429.8" fill="#000"/>
<polygon points="297.7,429.0 283.2,429.0 290.5,416.4" fill="#000"/>
<polygon points="301.9,415.0 287.4,415.0 294.7,402.4" fill="#000"/>
<polygon points="306.0,401.4 291.5,401.4 298.8,388.9" fill="#000"/>
<polygon points="310.5,386.6 296.0,386.6 303.2,374.0" fill="#000"/>
<polygon points="314.7,372.3 300.2,372.3 307.4,359.8" fill="#000"/>
<polygon points="318.6,359.3 304.1,359.3 311.4,346.7" fill="#000"/>
<polygon points="323.0,346.0 308.5,346.0 315.8,333.4" fill="#000"/>
<polygon points="328.8,332.6 314.3,332.6 321.6,320.0" fill="#000"/>
<polygon points="332.7,318.7 319.7,318.7 326.2,307.4" fill="#000"/>
<polygon points="337.9,304.9 324.9,304.9 331.4,293.6" fill="#000"/>
<polygon points="342.0,291.6 329.0,291.6 335.5,280.4" fill="#000"/>
<polygon points="347.1,278.8 334.1,278.8 340.6,267.5" fill="#000"/>
<polygon points="353.8,266.9 340.8,266.9 347.3,255.7" fill="#000"/>
<polygon points="360.8,255.2 347.8,255.2 354.3,244.0" fill="#000"/>
<polygon points="366.8,242.3 353.8,242.3 360.3,231.0" fill="#000"/>
<polygon points="374.2,230.1 361.2,230.1 367.7,218.8" fill="#000"/>
<polygon points="380.2,217.5 367.2,217.5 373.7,206.2" fill="#000"/>
<polygon points="386.2,204.0 373.2,204.0 379.8,192.7" fill="#000"/>
<polygon points="393.5,192.1 380.5,192.1 387.0,180.8" fill="#000"/>
<polygon points="403.2,182.8 390.2,182.8 396.8,171.5" fill="#000"/>
<polygon points="413.6,171.9 400.6,171.9 407.1,160.7" fill="#000"/>
<polygon points="424.7,162.1 411.7,162.1 418.2,150.8" fill="#000"/>
<circle cx="254.0" cy="516.0" r="4.6" fill="#fff" stroke="#000" stroke-width="3.8"/>
<circle cx="258.3" cy="501.6" r="4.6" fill="#fff" stroke="#000" stroke-width="3.8"/>
<circle cx="262.9" cy="486.9" r="4.6" fill="#fff" stroke="#000" stroke-width="3.8"/>
<circle cx="269.4" cy="472.8" r="4.6" fill="#fff" stroke="#000" stroke-width="3.8"/>
<circle cx="274.5" cy="458.1" r="4.6" fill="#fff" stroke="#000" stroke-width="3.8"/>
<circle cx="279.3" cy="444.2" r="4.6" fill="#fff" stroke="#000" stroke-width="3.8"/>
<circle cx="283.8" cy="429.4" r="4.6" fill="#fff" stroke="#000" stroke-width="3.8"/>
<circle cx="288.5" cy="414.5" r="4.6" fill="#fff" stroke="#000" stroke-width="3.8"/>
<circle cx="292.7" cy="400.1" r="4.6" fill="#fff" stroke="#000" stroke-width="3.8"/>
<circle cx="294.9" cy="385.2" r="4.6" fill="#fff" stroke="#000" stroke-width="3.8"/>
<circle cx="299.0" cy="370.8" r="4.6" fill="#fff" stroke="#000" stroke-width="3.8"/>
<circle cx="302.6" cy="356.2" r="4.6" fill="#fff" stroke="#000" stroke-width="3.8"/>
<circle cx="305.2" cy="341.6" r="4.6" fill="#fff" stroke="#000" stroke-width="3.8"/>
<circle cx="310.4" cy="327.9" r="4.6" fill="#fff" stroke="#000" stroke-width="3.8"/>
<circle cx="316.3" cy="314.6" r="4.6" fill="#fff" stroke="#000" stroke-width="3.8"/>
<circle cx="323.2" cy="300.9" r="4.6" fill="#fff" stroke="#000" stroke-width="3.8"/>
<circle cx="329.5" cy="287.6" r="4.6" fill="#fff" stroke="#000" stroke-width="3.8"/>
<polygon points="249.5,1459.0 249.4,1458.1 249.2,1456.9 249.0,1455.4 248.8,1453.7 248.7,1451.9 248.6,1450.0 248.6,1448.0 248.7,1445.7 248.9,1443.4 249.1,1440.9 249.3,1438.4 249.5,1436.0 249.7,1433.6 250.0,1431.3 250.3,1428.9 250.6,1426.5 250.9,1423.9 251.3,1421.0 251.7,1417.8 252.1,1414.4 252.6,1410.8 253.1,1407.1 253.8,1403.5 254.5,1400.0 255.4,1396.6 256.3,1393.4 257.4,1390.1 258.5,1386.9 259.7,1383.5 261.0,1380.0 262.4,1376.3 263.8,1372.5 265.3,1368.6 266.9,1364.6 268.4,1360.8 270.0,1357.0 271.5,1353.6 272.9,1350.7 274.4,1347.8 275.9,1344.6 277.5,1340.8 279.4,1336.0 281.7,1329.6 284.4,1321.7 287.3,1313.2 290.0,1305.0 292.4,1297.9 312.5,1234.3 316.0,1223.5 319.5,1213.0 323.0,1203.0 326.5,1193.3 330.0,1184.0 333.5,1175.0 337.0,1166.4 340.5,1158.2 344.0,1150.3 347.5,1142.7 351.0,1135.4 354.5,1128.4 358.0,1121.7 361.5,1115.2 365.1,1109.1 368.6,1103.2 372.1,1097.6 375.6,1092.2 379.2,1087.0 382.7,1082.1 386.3,1077.4 389.8,1073.0 393.4,1068.7 397.0,1064.7 400.5,1060.8 404.1,1057.2 407.7,1053.7 411.3,1050.4 414.9,1047.3 418.5,1044.4 422.2,1041.7 425.8,1039.1 429.4,1036.7 433.1,1034.4 436.7,1032.3 440.4,1030.3 444.0,1028.5 447.7,1026.8 451.5,1025.2 455.5,1023.9 459.3,1022.7 463.2,1021.6 467.0,1020.7 470.9,1019.8 474.7,1019.1 478.6,1018.5 482.4,1018.0 486.2,1017.5 490.0,1017.2 493.8,1017.0 497.5,1016.9 501.3,1016.8 504.9,1016.9 508.4,1016.7 511.9,1016.6 515.5,1016.6 519.0,1016.7 522.5,1016.8 526.1,1017.0 529.6,1017.2 533.1,1017.5 536.7,1017.9 540.2,1018.3 543.7,1018.8 547.2,1019.3 550.7,1019.9 554.2,1020.5 557.7,1021.2 561.2,1021.9 564.7,1022.7 568.2,1023.5 571.8,1024.3 575.6,1025.4 579.4,1026.7 582.9,1027.9 586.4,1029.2 589.8,1030.5 593.3,1031.8 596.8,1033.2 600.3,1034.5 603.7,1036.0 607.2,1037.4 610.6,1038.9 614.0,1040.4 617.4,1042.0 620.9,1043.6 624.3,1045.2 627.4,1046.7 630.5,1048.0 633.9,1049.5 637.4,1050.9 640.8,1052.4 644.2,1053.9 647.6,1055.4 651.0,1056.9 654.4,1058.4 657.7,1059.9 661.1,1061.4 664.5,1063.0 667.9,1064.5 671.3,1066.1 674.7,1067.7 678.1,1069.2 681.5,1070.8 684.8,1072.4 688.1,1073.9 691.5,1075.4 694.8,1077.0 698.2,1078.5 701.6,1080.1 705.0,1081.6 708.3,1083.2 711.7,1084.7 715.1,1086.3 718.4,1087.9 721.8,1089.4 725.2,1091.0 728.6,1092.6 731.9,1094.1 735.3,1095.7 738.7,1097.3 742.0,1098.9 745.4,1100.5 748.8,1102.1 752.1,1103.6 755.5,1105.2 758.8,1106.8 762.2,1108.4 765.5,1109.9 768.9,1111.5 772.3,1113.0 775.6,1114.6 779.0,1116.2 782.4,1117.7 785.8,1119.3 789.1,1120.9 792.5,1122.5 795.9,1124.1 799.2,1125.6 802.6,1127.2 805.9,1128.8 809.3,1130.3 812.6,1131.9 816.0,1133.4 819.3,1134.9 822.7,1136.5 826.0,1138.0 829.4,1139.5 832.8,1141.0 836.1,1142.5 839.5,1144.0 842.8,1145.5 846.2,1147.0 849.5,1148.5 852.9,1150.0 856.2,1151.5 859.6,1152.9 862.9,1154.4 866.3,1155.8 869.6,1157.3 873.0,1158.7 876.3,1160.1 879.7,1161.6 883.0,1163.0 886.4,1164.4 889.7,1165.8 893.1,1167.2 896.4,1168.6 899.8,1170.0 903.1,1171.4 906.5,1172.7 909.8,1174.1 913.2,1175.4 916.5,1176.8 919.9,1178.1 923.2,1179.5 926.6,1180.8 929.9,1182.1 933.3,1183.5 936.7,1184.8 940.1,1186.2 943.4,1187.5 946.7,1188.8 950.1,1190.1 953.4,1191.4 956.8,1192.7 960.1,1194.0 963.5,1195.3 966.8,1196.6 970.2,1197.9 973.5,1199.1 976.9,1200.4 980.2,1201.6 983.6,1202.9 986.9,1204.1 990.3,1205.4 993.6,1206.6 997.0,1207.8 1000.3,1209.0 1003.7,1210.2 996.1,1231.4 992.7,1230.2 989.3,1229.0 985.9,1227.7 982.5,1226.5 979.1,1225.2 975.8,1224.0 972.4,1222.7 969.0,1221.5 965.6,1220.2 962.2,1218.9 958.8,1217.6 955.4,1216.3 952.0,1215.0 948.7,1213.7 945.3,1212.4 941.9,1211.1 938.5,1209.8 935.1,1208.4 931.7,1207.1 928.3,1205.7 925.0,1204.4 921.7,1203.1 918.3,1201.7 914.9,1200.4 911.5,1199.0 908.1,1197.6 904.7,1196.3 901.4,1194.9 898.0,1193.5 894.6,1192.1 891.2,1190.7 887.8,1189.3 884.4,1187.9 881.1,1186.4 877.7,1185.0 874.3,1183.6 870.9,1182.1 867.5,1180.7 864.2,1179.2 860.8,1177.8 857.4,1176.3 854.0,1174.8 850.6,1173.3 847.3,1171.8 843.9,1170.3 840.5,1168.8 837.1,1167.3 833.7,1165.8 830.4,1164.3 827.0,1162.8 823.6,1161.2 820.2,1159.7 816.9,1158.2 813.5,1156.6 810.1,1155.1 806.7,1153.5 803.4,1151.9 800.0,1150.4 796.6,1148.8 793.2,1147.2 789.9,1145.6 786.5,1144.0 783.1,1142.4 779.7,1140.9 776.4,1139.3 773.0,1137.7 769.7,1136.1 766.4,1134.6 763.0,1133.0 759.6,1131.4 756.2,1129.9 752.9,1128.3 749.5,1126.7 746.1,1125.1 742.8,1123.5 739.4,1122.0 736.0,1120.4 732.7,1118.8 729.3,1117.2 725.9,1115.6 722.6,1114.0 719.2,1112.5 715.9,1110.9 712.5,1109.3 709.2,1107.8 705.8,1106.2 702.5,1104.6 699.1,1103.1 695.8,1101.5 692.4,1099.9 689.0,1098.4 685.7,1096.8 682.3,1095.3 679.0,1093.7 675.6,1092.1 672.2,1090.5 668.8,1089.0 665.5,1087.4 662.1,1085.8 658.8,1084.3 655.5,1082.7 652.1,1081.2 648.8,1079.7 645.5,1078.2 642.1,1076.7 638.8,1075.2 635.5,1073.7 632.1,1072.2 628.8,1070.8 625.5,1069.4 622.2,1067.9 618.6,1066.4 615.0,1064.7 611.7,1063.1 608.3,1061.5 605.0,1060.0 601.7,1058.5 598.4,1057.0 595.1,1055.4 591.9,1053.8 588.6,1052.3 585.4,1050.8 582.1,1049.4 578.9,1047.9 575.6,1046.6 572.4,1045.2 569.4,1043.9 566.5,1043.0 563.3,1042.0 560.1,1041.1 556.9,1040.2 553.6,1039.4 550.4,1038.6 547.1,1037.8 543.9,1037.1 540.7,1036.5 537.5,1035.9 534.2,1035.3 531.0,1034.8 527.8,1034.3 524.6,1033.9 521.4,1033.6 518.2,1033.3 515.0,1033.1 511.8,1033.0 508.6,1032.9 505.2,1032.9 501.7,1033.0 498.3,1033.2 494.9,1033.5 491.5,1033.8 488.1,1034.3 484.8,1034.8 481.4,1035.4 478.1,1036.1 474.7,1036.9 471.4,1037.8 468.1,1038.8 464.8,1039.8 461.5,1041.0 458.2,1042.3 455.1,1043.7 452.0,1045.1 448.9,1046.7 445.7,1048.4 442.6,1050.2 439.5,1052.2 436.3,1054.3 433.2,1056.6 430.0,1059.0 426.8,1061.6 423.6,1064.3 420.4,1067.3 417.2,1070.4 414.0,1073.7 410.8,1077.2 407.5,1080.8 404.3,1084.7 401.0,1088.9 397.7,1093.2 394.5,1097.8 391.2,1102.6 387.9,1107.6 384.6,1113.0 381.3,1118.5 377.9,1124.4 374.6,1130.5 371.2,1136.9 367.9,1143.6 364.5,1150.7 361.2,1158.0 357.8,1165.7 354.4,1173.7 351.0,1182.0 347.6,1190.7 344.2,1199.8 340.8,1209.3 337.4,1219.1 334.0,1229.4 330.6,1240.1 311.5,1297.9 309.3,1304.9 306.8,1313.1 304.2,1321.6 301.9,1329.6 300.0,1336.0 298.7,1340.9 297.8,1344.9 297.0,1348.3 296.4,1351.4 295.8,1354.6 295.0,1358.0 294.1,1361.7 293.2,1365.4 292.2,1369.1 291.3,1372.8 290.3,1376.4 289.4,1380.0 288.6,1383.4 287.8,1386.8 287.0,1390.1 286.2,1393.3 285.2,1396.6 284.0,1400.0 282.4,1403.5 280.6,1407.0 278.5,1410.5 276.5,1414.0 274.6,1417.5 273.0,1421.0 271.7,1424.5 270.6,1428.0 269.6,1431.5 268.7,1434.9 267.9,1438.1 267.0,1441.0 266.1,1443.7 265.2,1446.1 264.4,1448.4 263.6,1450.4 262.8,1452.3 262.0,1454.0 261.2,1455.5 260.4,1456.7 259.7,1457.8 259.0,1458.7 258.4,1459.4 258.0,1460.0" fill="#000"/>
<line x1="810.7" y1="108.6" x2="810.7" y2="195.7" stroke="#000" stroke-width="5"/><polygon points="810.7,214.7 801.2,193.7 820.2,193.7" fill="#000"/>
<line x1="648.4" y1="481.0" x2="720.0" y2="364.6" stroke="#000" stroke-width="5"/><polygon points="730.0,348.4 727.1,371.3 710.9,361.3" fill="#000"/>
<line x1="777.0" y1="1007.5" x2="777.0" y2="1069.0" stroke="#000" stroke-width="5"/><polygon points="777.0,1088.0 767.5,1067.0 786.5,1067.0" fill="#000"/>
<line x1="667.7" y1="1408.0" x2="739.8" y2="1267.0" stroke="#000" stroke-width="5"/><polygon points="748.4,1250.1 747.3,1273.1 730.4,1264.5" fill="#000"/>
<text x="299.5" y="95" style="font-family:'Liberation Serif',serif;font-size:78px;font-weight:bold;font-style:normal"  transform="matrix(1,0,0,1.04,0,-3.80)">a</text>
<text x="509.5" y="95.8" style="font-family:'Liberation Serif',serif;font-size:78px;font-weight:bold;font-style:normal"  transform="matrix(1,0,0,1.045,0,-4.31)">Instantaneous</text>
<text x="451" y="547" style="font-family:'Liberation Serif',serif;font-size:78px;font-weight:bold;font-style:normal" letter-spacing="-0.5" transform="matrix(1,0,0,1.025,0,-13.67)">Progressive</text>
<text x="291" y="1019.3" style="font-family:'Liberation Serif',serif;font-size:77px;font-weight:bold;font-style:normal" >b</text>
<text x="503" y="993.8" style="font-family:'Liberation Serif',serif;font-size:78px;font-weight:bold;font-style:normal"  transform="matrix(1,0,0,1.05,0,-49.69)">Instantaneous</text>
<text x="472" y="1477" style="font-family:'Liberation Serif',serif;font-size:78px;font-weight:bold;font-style:normal" letter-spacing="-0.5" transform="matrix(1,0,0,1.035,0,-51.69)">Progressive</text>
<text x="142.4" y="52.7" style="font-family:'Liberation Serif',serif;font-size:72px;font-weight:normal;font-style:normal"  transform="matrix(1,0,0,1.03,0,-1.58)">1.2</text>
<text x="139.8" y="254.0" style="font-family:'Liberation Serif',serif;font-size:72px;font-weight:normal;font-style:normal"  transform="matrix(1,0,0,1.03,0,-7.62)">0.8</text>
<text x="137.0" y="457.3" style="font-family:'Liberation Serif',serif;font-size:72px;font-weight:normal;font-style:normal"  transform="matrix(1,0,0,1.03,0,-13.72)">0.4</text>
<text x="137.0" y="659.3" style="font-family:'Liberation Serif',serif;font-size:72px;font-weight:normal;font-style:normal"  transform="matrix(1,0,0,1.03,0,-19.78)">0.0</text>
<text x="195.5" y="736.6" style="font-family:'Liberation Serif',serif;font-size:72px;font-weight:normal;font-style:normal"  transform="matrix(1,0,0,1.03,0,-22.10)">0.0</text>
<text x="443.2" y="736.6" style="font-family:'Liberation Serif',serif;font-size:72px;font-weight:normal;font-style:normal"  transform="matrix(1,0,0,1.03,0,-22.10)">1.0</text>
<text x="693.5" y="736.6" style="font-family:'Liberation Serif',serif;font-size:72px;font-weight:normal;font-style:normal"  transform="matrix(1,0,0,1.03,0,-22.10)">2.0</text>
<text x="941.5" y="736.6" style="font-family:'Liberation Serif',serif;font-size:72px;font-weight:normal;font-style:normal"  transform="matrix(1,0,0,1.03,0,-22.10)">3.0</text>
<text x="142.9" y="949.2" style="font-family:'Liberation Serif',serif;font-size:72px;font-weight:normal;font-style:normal"  transform="matrix(1,0,0,1.03,0,-28.48)">1.2</text>
<text x="140.4" y="1161.2" style="font-family:'Liberation Serif',serif;font-size:72px;font-weight:normal;font-style:normal"  transform="matrix(1,0,0,1.03,0,-34.84)">0.8</text>
<text x="137.5" y="1371.2" style="font-family:'Liberation Serif',serif;font-size:72px;font-weight:normal;font-style:normal"  transform="matrix(1,0,0,1.03,0,-41.14)">0.4</text>
<text x="137.5" y="1585.1" style="font-family:'Liberation Serif',serif;font-size:72px;font-weight:normal;font-style:normal"  transform="matrix(1,0,0,1.03,0,-47.55)">0.0</text>
<text x="201.4" y="1667.0" style="font-family:'Liberation Serif',serif;font-size:72px;font-weight:normal;font-style:normal"  transform="matrix(1,0,0,1.03,0,-50.01)">0.0</text>
<text x="447.3" y="1667.0" style="font-family:'Liberation Serif',serif;font-size:72px;font-weight:normal;font-style:normal"  transform="matrix(1,0,0,1.03,0,-50.01)">1.0</text>
<text x="693.1" y="1667.3" style="font-family:'Liberation Serif',serif;font-size:72px;font-weight:normal;font-style:normal"  transform="matrix(1,0,0,1.03,0,-50.02)">2.0</text>
<text x="939.5" y="1667.0" style="font-family:'Liberation Serif',serif;font-size:72px;font-weight:normal;font-style:normal"  transform="matrix(1,0,0,1.03,0,-50.01)">3.0</text>
<text x="532.5" y="828.5" style="font-family:'Liberation Serif',serif;font-size:76px;font-weight:bold;font-style:italic" >t</text>
<text x="610.5" y="828.5" style="font-family:'Liberation Serif',serif;font-size:76px;font-weight:bold;font-style:italic" >t</text>
<path d="M570.0,779.1 L566.5,801.5 L580.0,783.3 A5.6,5.6 0 1 0 570.0,779.1 Z" fill="#000"/>
<path d="M648.5,779.1 L645.0,801.5 L658.5,783.3 A5.6,5.6 0 1 0 648.5,779.1 Z" fill="#000"/>
<line x1="592.5" y1="831" x2="612.5" y2="775.5" stroke="#000" stroke-width="4.0" stroke-linecap="butt"/>
<text x="670.5" y="849" style="font-family:'Liberation Serif',serif;font-size:50.5px;font-weight:bold;font-style:normal" >m</text>
<text x="542.5" y="1778.5" style="font-family:'Liberation Serif',serif;font-size:74px;font-weight:bold;font-style:italic" >t</text>
<text x="609" y="1778.5" style="font-family:'Liberation Serif',serif;font-size:74px;font-weight:bold;font-style:italic" >t</text>
<path d="M580.5,1731.7 L577.5,1752.5 L590.4,1735.9 A5.6,5.6 0 1 0 580.5,1731.7 Z" fill="#000"/>
<path d="M647.0,1731.7 L644.0,1752.5 L656.9,1735.9 A5.6,5.6 0 1 0 647.0,1731.7 Z" fill="#000"/>
<line x1="586" y1="1778.5" x2="616" y2="1725.5" stroke="#000" stroke-width="6.5" stroke-linecap="butt"/>
<text x="671.5" y="1797.5" style="font-family:'Liberation Serif',serif;font-size:50.5px;font-weight:bold;font-style:normal" >m</text>
<g transform="translate(72.5,419) rotate(-90)" style="font-family:'Liberation Serif',serif;font-weight:bold">
<text x="-2" y="0" style="font-size:77px">(</text>
<text x="23" y="0" style="font-size:77px;font-style:italic">i</text>
<text x="61" y="0" style="font-size:77px;font-weight:normal">/</text>
<text x="82" y="0" style="font-size:77px;font-style:italic">i</text>
<text x="119" y="9.5" style="font-size:50px">m</text>
<text x="159" y="0" style="font-size:77px">)</text>
<text x="189" y="-33.7" style="font-size:46px">2</text>
</g>
<g transform="translate(69.5,1311) rotate(-90)" style="font-family:'Liberation Serif',serif;font-weight:bold">
<text x="-2" y="0" style="font-size:77px">(</text>
<text x="23" y="0" style="font-size:77px;font-style:italic">i</text>
<text x="61" y="0" style="font-size:77px;font-weight:normal">/</text>
<text x="82" y="0" style="font-size:77px;font-style:italic">i</text>
<text x="119" y="9.5" style="font-size:50px">m</text>
<text x="159" y="0" style="font-size:77px">)</text>
<text x="189" y="-33.7" style="font-size:46px">2</text>
</g></g></svg>
</body></html>
